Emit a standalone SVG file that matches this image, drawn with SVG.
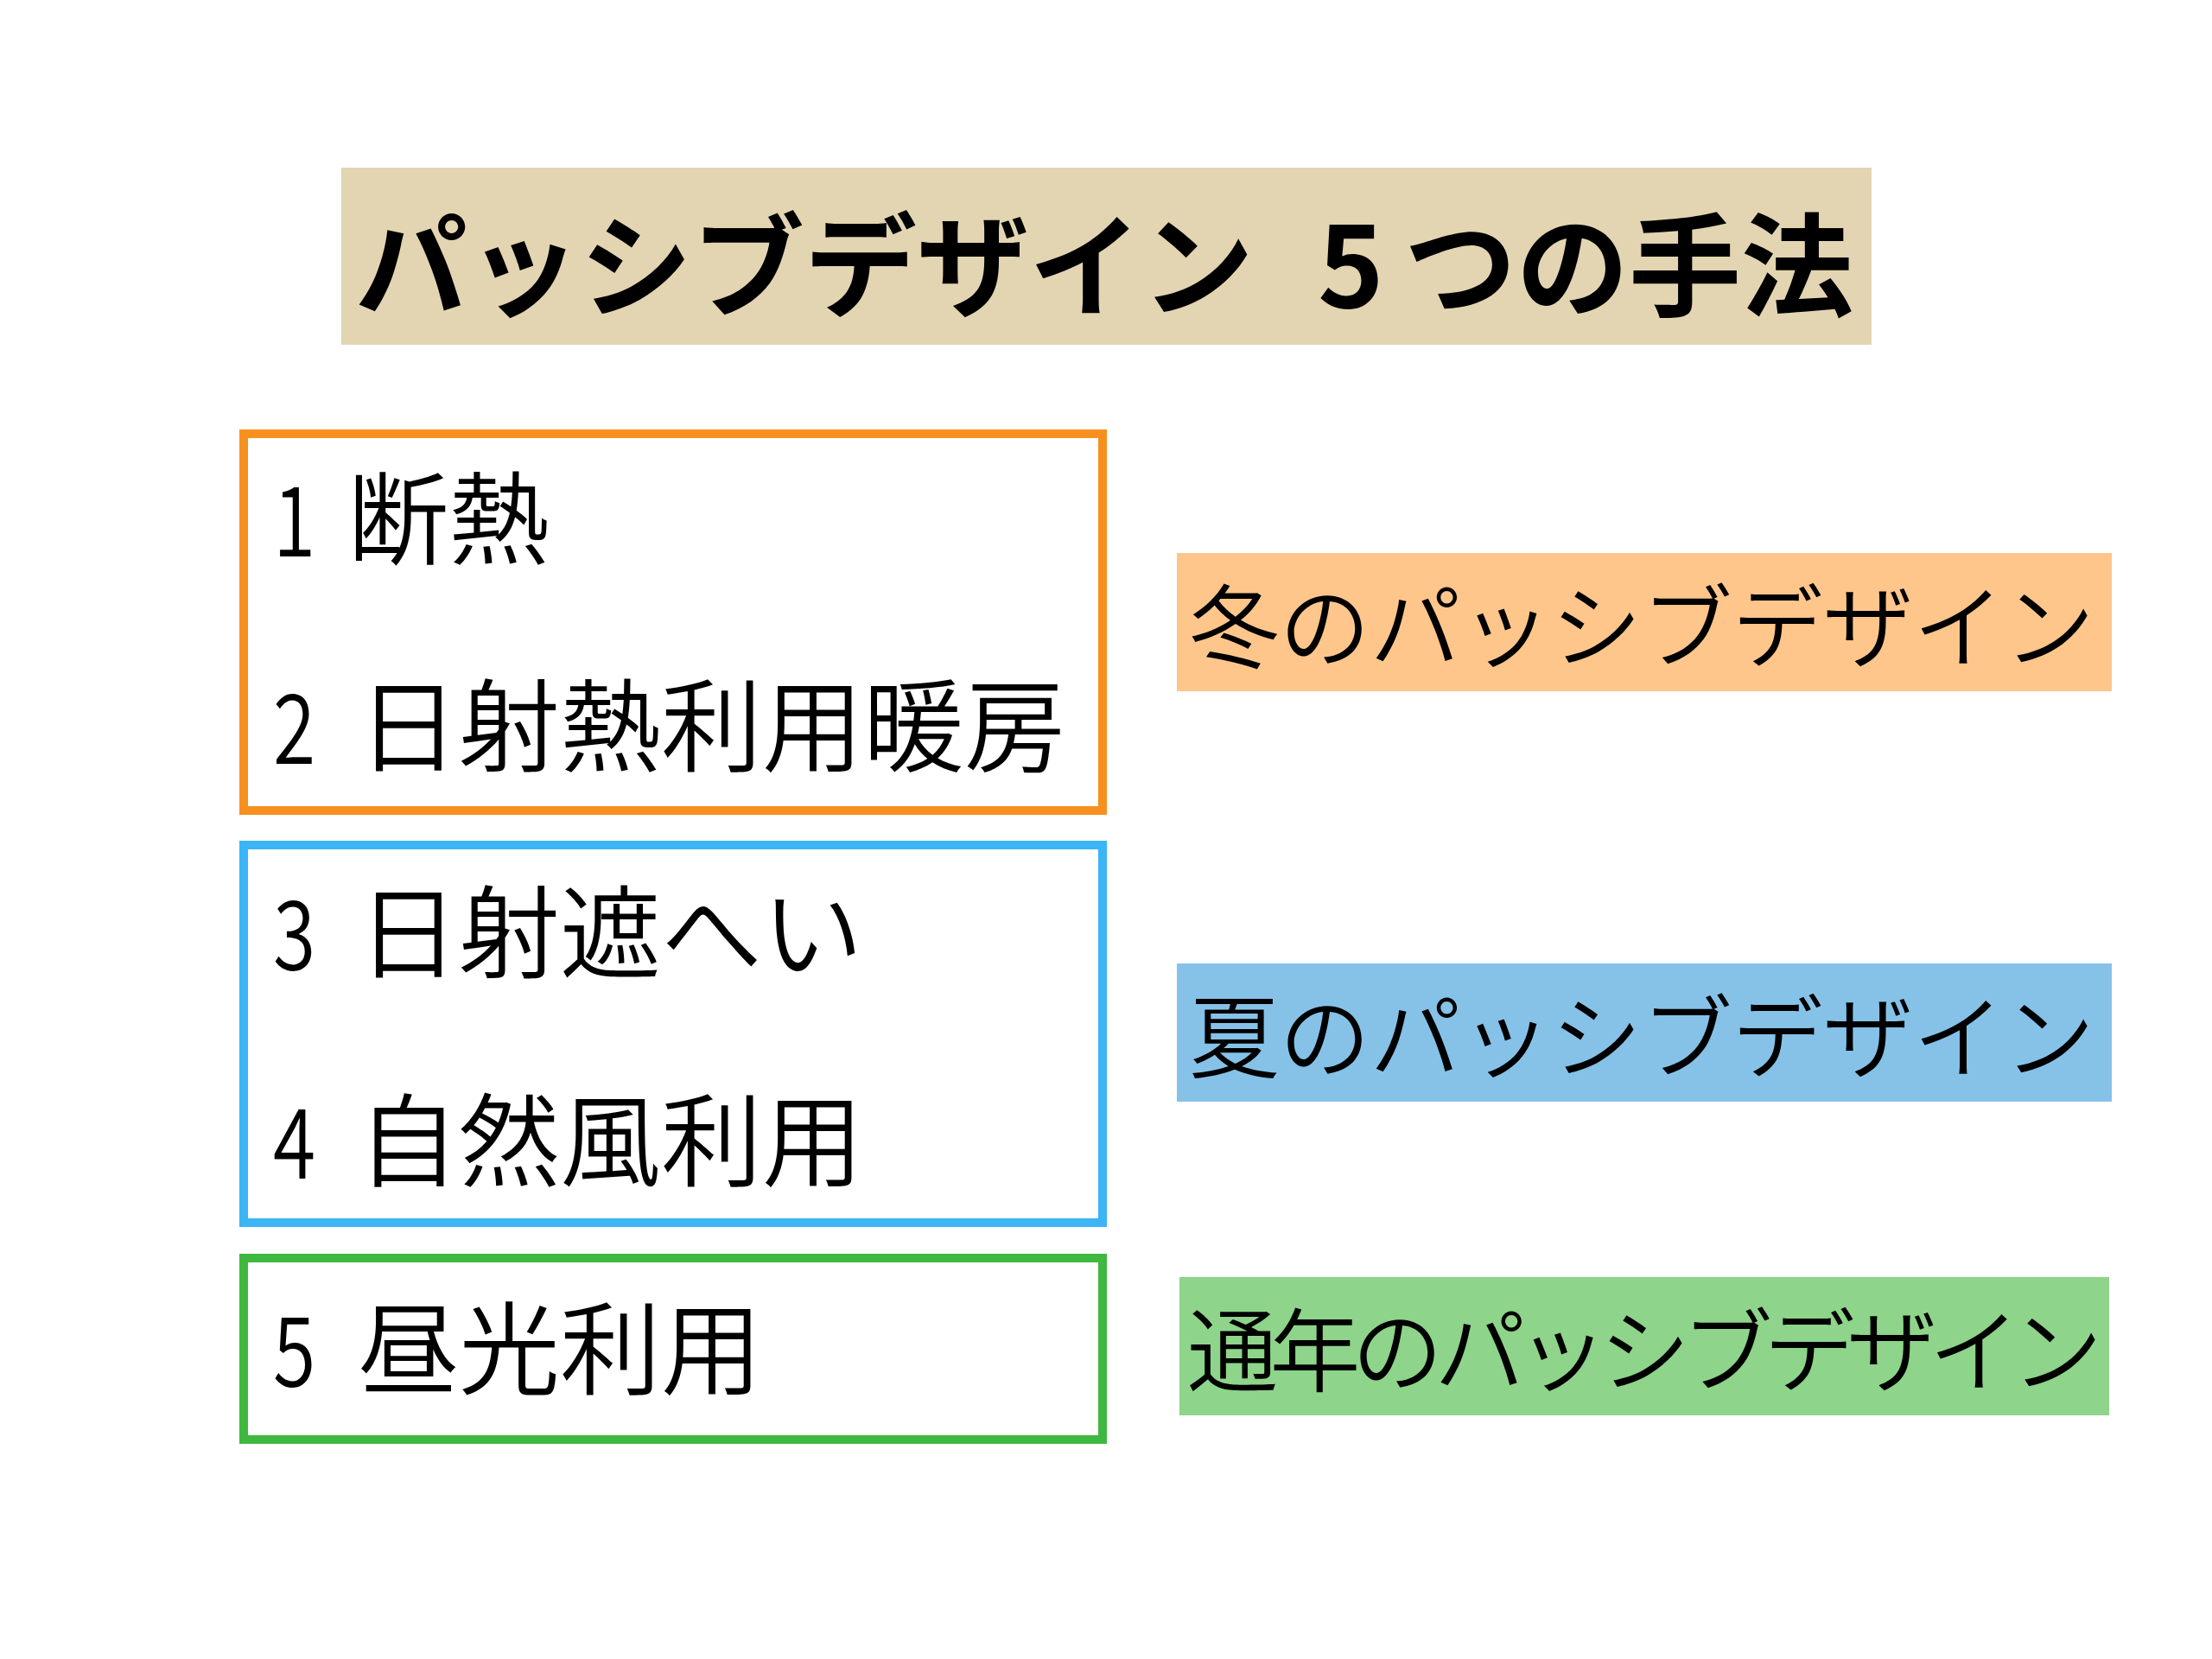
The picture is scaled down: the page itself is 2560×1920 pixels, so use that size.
<svg xmlns="http://www.w3.org/2000/svg" width="2560" height="1920" viewBox="0 0 2560 1920">
  <style>
    .jp { font-family: "Noto Sans CJK JP", "Noto Sans", sans-serif; fill: #000000; }
    .title { font-size: 130px; font-weight: 700; }
    .item { font-size: 117px; font-weight: 350; }
    .num { font-size: 112px; font-weight: 350; }
    .label { font-size: 105px; font-weight: 350; }
    .frame { fill: #ffffff; stroke-width: 10; }
  </style>
  <rect x="0" y="0" width="2560" height="1920" fill="#ffffff"/>

  <g id="title">
    <rect x="395" y="194" width="1771" height="205" fill="#E3D5B2"/>
    <text class="jp title" y="356"><tspan x="411">パッシブデザイン</tspan><tspan x="1525">5</tspan><tspan x="1625">つの手法</tspan></text>
  </g>

  <g id="group-winter">
    <rect class="frame" x="282" y="502" width="994" height="436" stroke="#F7901E"/>
    <text class="jp num" transform="translate(316,644) scale(0.8,1)">1</text>
    <text class="jp item" x="402" y="644">断熱</text>
    <text class="jp num" transform="translate(316,884) scale(0.8,1)">2</text>
    <text class="jp item" x="414" y="884">日射熱利用暖房</text>
  </g>

  <g id="group-summer">
    <rect class="frame" x="282" y="978" width="994" height="437" stroke="#3BB5F5"/>
    <text class="jp num" transform="translate(316,1123) scale(0.8,1)">3</text>
    <text class="jp item" x="414" y="1123">日射遮へい</text>
    <text class="jp num" transform="translate(316,1364) scale(0.8,1)">4</text>
    <text class="jp item" x="414" y="1364">自然風利用</text>
  </g>

  <g id="group-yearround">
    <rect class="frame" x="282" y="1456" width="994" height="210" stroke="#40B840"/>
    <text class="jp num" transform="translate(316,1605) scale(0.8,1)">5</text>
    <text class="jp item" x="414" y="1605">昼光利用</text>
  </g>

  <g id="label-winter">
    <rect x="1362" y="640" width="1082" height="160" fill="#FEC68B"/>
    <text class="jp label" x="1376" y="764" textLength="1048" lengthAdjust="spacing">冬のパッシブデザイン</text>
  </g>

  <g id="label-summer">
    <rect x="1362" y="1115" width="1082" height="160" fill="#86C2E8"/>
    <text class="jp label" x="1376" y="1239" textLength="1048" lengthAdjust="spacing">夏のパッシブデザイン</text>
  </g>

  <g id="label-yearround">
    <rect x="1365" y="1478" width="1076" height="160" fill="#8ED48A"/>
    <text class="jp label" x="1374" y="1602" textLength="1059" lengthAdjust="spacing">通年のパッシブデザイン</text>
  </g>

  <g id="connectors"></g>
</svg>
